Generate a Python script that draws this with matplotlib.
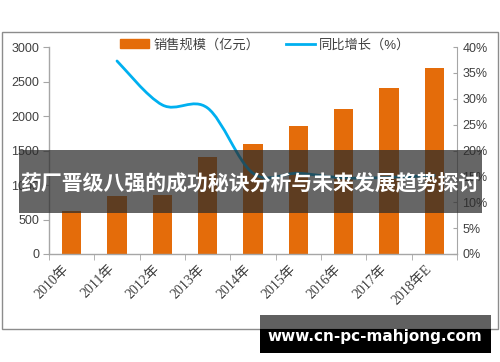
import matplotlib
matplotlib.use("Agg")
import matplotlib.pyplot as plt
import matplotlib.transforms as mtransforms
from matplotlib.path import Path
from matplotlib.patches import PathPatch, Rectangle
from matplotlib.lines import Line2D
import numpy as np

plt.rcParams['font.family'] = ['Liberation Sans', 'Noto Sans CJK SC', 'DejaVu Sans']

categories = ["2010年", "2011年", "2012年", "2013年", "2014年", "2015年", "2016年", "2017年", "2018年E"]
sales = [620, 840, 850, 1400, 1600, 1850, 2100, 2400, 2700]
growth_years = ["2011年", "2012年", "2013年", "2014年", "2015年", "2016年", "2017年", "2018年E"]
growth = [37.3, 28.8, 28.2, 15.6, 15.6, 14.7, 14.8, 15.2]
left_ticks = [0, 500, 1000, 1500, 2000, 2500, 3000]
right_ticks = [0, 5, 10, 15, 20, 25, 30, 35, 40]
legend_labels = ["销售规模（亿元）", "同比增长（%）"]
banner_title = "药厂晋级八强的成功秘诀分析与未来发展趋势探讨"
banner_url = "www.cn-pc-mahjong.com"

orange = "#E46C0A"
blue = "#00B0F0"
grey = "#A6A6A6"
txt = "#404040"

W, H = 500, 362
fig = plt.figure(figsize=(W/100, H/100), dpi=100)

# outer chart border
fig.patches.append(Rectangle((1.5/W, 1 - 329/H), 496/W, 297/H, transform=fig.transFigure,
                             fill=False, edgecolor="#8C8C8C", linewidth=1.0))

ax = fig.add_axes([49/W, 1 - 254/H, 408/W, 207/H])
x = np.arange(len(categories))
ax.bar(x, sales, width=0.42, color=orange, zorder=2)
ax.set_xlim(-0.5, len(categories) - 0.5)
ax.set_ylim(0, 3000)
ax.set_yticks(left_ticks)
ax.set_yticklabels([str(v) for v in left_ticks], fontsize=9, color=txt)
ax.set_xticks(x)
ax.set_xticklabels(categories, rotation=45, ha='right', fontsize=10, color=txt,
                   family=['Liberation Serif', 'Noto Sans CJK SC'])
offset = mtransforms.ScaledTranslation(5/100, -2/100, fig.dpi_scale_trans)
for lab in ax.get_xticklabels():
    lab.set_transform(lab.get_transform() + offset)
ax.set_xticks(np.arange(len(categories) + 1) - 0.5, minor=True)
ax.tick_params(axis='x', which='major', length=0, pad=6)
ax.tick_params(axis='x', which='minor', length=4, color=grey, direction='out')
ax.tick_params(axis='y', length=4, color=grey, direction='out', pad=3)
for s in ['top', 'right']:
    ax.spines[s].set_visible(False)
for s in ['left', 'bottom']:
    ax.spines[s].set_color(grey)
    ax.spines[s].set_linewidth(1.0)

ax2 = ax.twinx()
ax2.set_ylim(0, 40)
ax2.set_yticks(right_ticks)
ax2.set_yticklabels([f"{v}%" for v in right_ticks], fontsize=9, color=txt)
ax2.tick_params(axis='y', length=3, color=grey, direction='in', pad=4)
for s in ['top', 'left', 'bottom']:
    ax2.spines[s].set_visible(False)
ax2.spines['right'].set_color(grey)

# smooth line (Catmull-Rom -> Bezier) through growth points
gx = np.array([categories.index(c) for c in growth_years], dtype=float)
gy = np.array(growth, dtype=float)
pts = np.column_stack([gx, gy])
verts = [tuple(pts[0])]
codes = [Path.MOVETO]
n = len(pts)
for i in range(n - 1):
    p0 = pts[i - 1] if i > 0 else pts[i]
    p1 = pts[i]
    p2 = pts[i + 1]
    p3 = pts[i + 2] if i + 2 < n else pts[i + 1]
    c1 = p1 + (p2 - p0) / 6.0
    c2 = p2 - (p3 - p1) / 6.0
    verts += [tuple(c1), tuple(c2), tuple(p2)]
    codes += [Path.CURVE4] * 3
ax2.add_patch(PathPatch(Path(verts, codes), fill=False, edgecolor=blue, linewidth=2.0,
                        capstyle='round', zorder=3))

handles = [Rectangle((0, 0), 1, 1, color=orange), Line2D([], [], color=blue, linewidth=2.0)]
fig.legend(handles, legend_labels, loc='center', bbox_to_anchor=(265/W, 1 - 45/H), ncol=2,
           frameon=False, fontsize=9.5, handlelength=2.2, handleheight=0.6, handletextpad=0.3,
           columnspacing=2.0, labelcolor=txt)

# overlay banner
fig.patches.append(Rectangle((19/W, 1 - 213/H), 463/W, 63/H, transform=fig.transFigure,
                             facecolor="#2B2B2B", alpha=0.72, edgecolor='none', zorder=10))
fig.text(250/W, 1 - 184/H, banner_title, ha='center', va='center', color='white',
         fontsize=15, fontweight='bold', family=['Noto Sans CJK SC'], zorder=11)

# bottom url banner
fig.patches.append(Rectangle((260/W, 1 - 329/H), 231/W, 14/H, transform=fig.transFigure,
                             facecolor="#2B2B2B", alpha=0.75, edgecolor='none', zorder=10))
fig.patches.append(Rectangle((260/W, 1 - 353/H), 231/W, 24/H, transform=fig.transFigure,
                             facecolor="black", edgecolor='none', zorder=10))
fig.text(375/W, 1 - 337/H, banner_url, ha='center', va='center', color='white',
         fontsize=11, fontweight='bold', family=['DejaVu Sans'], zorder=11)

fig.savefig("out.png", dpi=100)
